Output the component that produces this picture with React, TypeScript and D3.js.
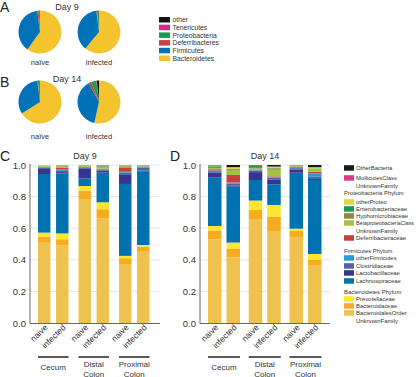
import React from "react";
import * as d3 from "d3";

// ---------- Pie data (A: Day 9, B: Day 14) ----------
const pieGroups = ["naïve", "infected"];
const pieDays = ["Day 9", "Day 14"];
const pieCategories = ["Bacteroidetes", "Firmicutes", "Deferribacteres", "Proteobacteria", "Tenericutes", "other"];
const pieColors = ["#f3c42d", "#0072b8", "#c8403a", "#14a050", "#e0268a", "#141414"];
// order: d9 naive, d9 infected, d14 naive, d14 infected
const pieBacteroidetes = [0.6, 0.61, 0.66, 0.535];
const pieFirmicutes = [0.38, 0.37, 0.32, 0.385];
const pieDeferribacteres = [0.01, 0.005, 0.004, 0.02];
const pieProteobacteria = [0.008, 0.013, 0.014, 0.04];
const pieTenericutes = [0.001, 0.001, 0.001, 0.004];
const pieOther = [0.001, 0.001, 0.001, 0.016];

// ---------- Bar data (C: Day 9, D: Day 14) ----------
const samples = ["naive", "infected"];
const regions = ["Cecum", "Distal Colon", "Proximal Colon"];
const yTicks = [0, 0.2, 0.4, 0.6, 0.8, 1.0];

const barKeys = [
  "BacteroidalesOrder", "Bacteroidaceae", "Prevotellaceae",
  "Lachnospiraceae", "Lactobacillaceae", "Clostridiaceae", "otherFirmicutes",
  "Deferribacteraceae", "Betaproteobacteria", "Hyphomicrobiaceae", "Enterobacteriaceae", "otherProteo",
  "Mollicutes", "OtherBacteria",
];
const barColors = [
  "#efc24f", "#f5ad1f", "#fde62c",
  "#0072b0", "#38348f", "#4b63a9", "#2b9bd8",
  "#c9413a", "#a5c23f", "#8b8a3a", "#179a52", "#d5dc3b",
  "#e0368a", "#1a1a1a",
];

// Day 9 — six bars: Cecum naive/infected, Distal naive/infected, Proximal naive/infected
const d9BacteroidalesOrder = [0.508, 0.49, 0.785, 0.662, 0.373, 0.451];
const d9Bacteroidaceae = [0.038, 0.04, 0.053, 0.058, 0.037, 0.032];
const d9Prevotellaceae = [0.026, 0.037, 0.029, 0.044, 0.015, 0.011];
const d9Lachnospiraceae = [0.371, 0.38, 0.048, 0.188, 0.455, 0.464];
const d9Lactobacillaceae = [0.032, 0.008, 0.064, 0.012, 0.057, 0.006];
const d9Clostridiaceae = [0.008, 0.012, 0.006, 0.008, 0.015, 0.02];
const d9OtherFirmicutes = [0.004, 0.005, 0.002, 0.004, 0.005, 0.006];
const d9Deferribacteraceae = [0.002, 0.01, 0.001, 0.002, 0.028, 0.002];
const d9Betaproteobacteria = [0.004, 0.008, 0.008, 0.01, 0.005, 0.004];
const d9Hyphomicrobiaceae = [0.002, 0.006, 0.002, 0.004, 0.007, 0.002];
const d9Enterobacteriaceae = [0.001, 0.002, 0.001, 0.006, 0.001, 0.001];
const d9OtherProteo = [0.004, 0.002, 0.001, 0.002, 0.002, 0.001];
const d9Mollicutes = [0, 0, 0, 0, 0, 0];
const d9OtherBacteria = [0, 0, 0, 0, 0, 0];

// Day 14
const d14BacteroidalesOrder = [0.53, 0.416, 0.658, 0.582, 0.54, 0.367];
const d14Bacteroidaceae = [0.055, 0.053, 0.057, 0.091, 0.042, 0.032];
const d14Prevotellaceae = [0.029, 0.04, 0.06, 0.074, 0.015, 0.038];
const d14Lachnospiraceae = [0.306, 0.354, 0.13, 0.131, 0.354, 0.468];
const d14Lactobacillaceae = [0.031, 0.008, 0.05, 0.031, 0.019, 0.006];
const d14Clostridiaceae = [0.01, 0.012, 0.01, 0.011, 0.01, 0.014];
const d14OtherFirmicutes = [0.004, 0.006, 0.005, 0.004, 0.004, 0.021];
const d14Deferribacteraceae = [0.008, 0.048, 0.002, 0.004, 0.004, 0.011];
const d14Betaproteobacteria = [0.006, 0.028, 0.006, 0.042, 0.004, 0.015];
const d14Hyphomicrobiaceae = [0.008, 0.006, 0.004, 0.006, 0.003, 0.004];
const d14Enterobacteriaceae = [0.005, 0.004, 0.012, 0.004, 0.002, 0.002];
const d14OtherProteo = [0.006, 0.01, 0.003, 0.01, 0.002, 0.008];
const d14Mollicutes = [0, 0.002, 0, 0, 0, 0];
const d14OtherBacteria = [0.002, 0.013, 0.003, 0.01, 0.001, 0.014];

const day9Series = [
  d9BacteroidalesOrder, d9Bacteroidaceae, d9Prevotellaceae, d9Lachnospiraceae, d9Lactobacillaceae,
  d9Clostridiaceae, d9OtherFirmicutes, d9Deferribacteraceae, d9Betaproteobacteria, d9Hyphomicrobiaceae,
  d9Enterobacteriaceae, d9OtherProteo, d9Mollicutes, d9OtherBacteria,
];
const day14Series = [
  d14BacteroidalesOrder, d14Bacteroidaceae, d14Prevotellaceae, d14Lachnospiraceae, d14Lactobacillaceae,
  d14Clostridiaceae, d14OtherFirmicutes, d14Deferribacteraceae, d14Betaproteobacteria, d14Hyphomicrobiaceae,
  d14Enterobacteriaceae, d14OtherProteo, d14Mollicutes, d14OtherBacteria,
];

// Legend for D (top to bottom)
const barLegend: { label: string[]; key?: string; header?: boolean }[] = [
  { label: ["OtherBacteria"], key: "OtherBacteria" },
  { label: ["MollicutesClass", "UnknownFamily"], key: "Mollicutes" },
  { label: ["Proteobacteria Phylum"], header: true },
  { label: ["otherProteo"], key: "otherProteo" },
  { label: ["Enterobacteriaceae"], key: "Enterobacteriaceae" },
  { label: ["Hyphomicrobiaceae"], key: "Hyphomicrobiaceae" },
  { label: ["BetaproteobacteriaClass", "UnknownFamily"], key: "Betaproteobacteria" },
  { label: ["Deferribacteraceae"], key: "Deferribacteraceae" },
  { label: ["Firmicutes Phylum"], header: true },
  { label: ["otherFirmicutes"], key: "otherFirmicutes" },
  { label: ["Clostridiaceae"], key: "Clostridiaceae" },
  { label: ["Lactobacillaceae"], key: "Lactobacillaceae" },
  { label: ["Lachnospiraceae"], key: "Lachnospiraceae" },
  { label: ["Bacteroidetes Phylum"], header: true },
  { label: ["Prevotellaceae"], key: "Prevotellaceae" },
  { label: ["Bacteroidaceae"], key: "Bacteroidaceae" },
  { label: ["BacteroidalesOrder", "UnknownFamily"], key: "BacteroidalesOrder" },
];
const barLegendY = [168, 178, 193, 202, 209, 216, 223, 238, 251, 258, 266, 273, 281, 292, 299, 306, 313];

const FONT = "'Liberation Sans', Arial, sans-serif";

function Pie({ cx, cy, idx }: { cx: number; cy: number; idx: number }) {
  const vals = [pieBacteroidetes, pieFirmicutes, pieDeferribacteres, pieProteobacteria, pieTenericutes, pieOther].map(a => a[idx]);
  const arcs = d3.pie<number>().sort(null)(vals);
  const arc = d3.arc<d3.PieArcDatum<number>>().innerRadius(0).outerRadius(21.5);
  return (
    <g transform={`translate(${cx},${cy})`}>
      {arcs.map((a, i) => (
        <path key={i} d={arc(a) || ""} fill={pieColors[i]} />
      ))}
    </g>
  );
}

function BarPanel({ series, x0, x1, axisX, gridEnd, pOuter, pInner }: {
  series: number[][]; x0: number; x1: number; axisX: number; gridEnd: number; pOuter: number; pInner: number;
}) {
  const y = d3.scaleLinear().domain([0, 1]).range([323, 165]);
  const gx = d3.scaleBand<string>().domain(regions).range([x0, x1]).paddingInner(pOuter).paddingOuter(0);
  const ix = d3.scaleBand<string>().domain(samples).range([0, gx.bandwidth()]).paddingInner(pInner);
  const rows = d3.range(6).map(i => {
    const r: Record<string, number> = {};
    barKeys.forEach((k, j) => (r[k] = series[j][i]));
    return r;
  });
  const stacked = d3.stack<Record<string, number>>().keys(barKeys)(rows);
  const barX = (i: number) => (gx(regions[Math.floor(i / 2)]) as number) + (ix(samples[i % 2]) as number);
  return (
    <g>
      {yTicks.map(t => (
        <g key={t}>
          {t > 0 && <line x1={axisX} x2={gridEnd} y1={y(t)} y2={y(t)} stroke="#e6e6e6" strokeWidth={1} />}
          <text x={axisX - 4} y={y(t) + 3.5} fontSize={9.5} textAnchor="end" fill="#333" fontFamily={FONT}>
            {d3.format(".1f")(t)}
          </text>
        </g>
      ))}
      {stacked.map((s, j) =>
        s.map((d, i) => (
          <rect key={`${j}-${i}`} x={barX(i)} width={ix.bandwidth()} y={y(d[1])} height={Math.max(0, y(d[0]) - y(d[1]))} fill={barColors[j]} />
        ))
      )}
      <line x1={axisX} x2={axisX} y1={164} y2={323.5} stroke="#666" strokeWidth={1} />
      <line x1={axisX} x2={gridEnd} y1={323.5} y2={323.5} stroke="#666" strokeWidth={1} />
      {d3.range(6).map(i => {
        const cx = barX(i) + ix.bandwidth() / 2 + 4;
        return (
          <text key={i} transform={`translate(${cx},328) rotate(-45)`} fontSize={8.5} textAnchor="end" fill="#333" fontFamily={FONT}>
            {samples[i % 2]}
          </text>
        );
      })}
      {regions.map(r => {
        const gx0 = gx(r) as number;
        const words = r.split(" ");
        const mid = gx0 + gx.bandwidth() / 2;
        return (
          <g key={r}>
            <line x1={gx0} x2={gx0 + gx.bandwidth()} y1={357} y2={357} stroke="#222" strokeWidth={1.5} />
            {words.length === 1 ? (
              <text x={mid} y={370} fontSize={8} textAnchor="middle" fill="#333" fontFamily={FONT}>{r}</text>
            ) : (
              words.map((w, k) => (
                <text key={k} x={mid} y={367 + k * 9.5} fontSize={8} textAnchor="middle" fill="#333" fontFamily={FONT}>{w}</text>
              ))
            )}
          </g>
        );
      })}
    </g>
  );
}

export default function App() {
  const pieCentersX = [40, 99];
  const pieCentersY = [32, 102];
  const pieLabelY = [65, 139];
  const pieTitleY = [10, 82];
  const lx = 344;
  return (
    <svg width={420} height={377} style={{ position: "absolute", left: 0, top: 0, background: "#fff" }}>
      <rect width={420} height={377} fill="#fff" />
      {/* Panel letters */}
      <text x={0} y={12} fontSize={14} fontFamily={FONT} fill="#222">A</text>
      <text x={0} y={87} fontSize={14} fontFamily={FONT} fill="#222">B</text>
      <text x={0} y={161} fontSize={14} fontFamily={FONT} fill="#222">C</text>
      <text x={170} y={161} fontSize={14} fontFamily={FONT} fill="#222">D</text>

      {/* Pies */}
      {pieDays.map((day, di) => (
        <g key={day}>
          <text x={67} y={pieTitleY[di]} fontSize={9} textAnchor="middle" fill="#333" fontFamily={FONT}>{day}</text>
          {pieGroups.map((g, gi) => (
            <g key={g}>
              <Pie cx={pieCentersX[gi]} cy={pieCentersY[di]} idx={di * 2 + gi} />
              <text x={pieCentersX[gi]} y={pieLabelY[di]} fontSize={7.5} textAnchor="middle" fill="#333" fontFamily={FONT}>{g}</text>
            </g>
          ))}
        </g>
      ))}

      {/* Pie legend */}
      {pieCategories.slice().reverse().map((c, i) => {
        const ci = pieCategories.length - 1 - i;
        const yy = 20 + i * 7.7;
        return (
          <g key={c}>
            <rect x={159} y={yy - 3} width={11} height={5.5} fill={pieColors[ci]} />
            <text x={172.5} y={yy + 2.2} fontSize={6.8} fill="#333" fontFamily={FONT}>{c}</text>
          </g>
        );
      })}

      {/* Bar titles */}
      <text x={85} y={159} fontSize={9} textAnchor="middle" fill="#333" fontFamily={FONT}>Day 9</text>
      <text x={265} y={159} fontSize={9} textAnchor="middle" fill="#333" fontFamily={FONT}>Day 14</text>

      <BarPanel series={day9Series} x0={38} x1={149.5} axisX={30} gridEnd={160} pOuter={0.247} pInner={0.31} />
      <BarPanel series={day14Series} x0={208} x1={321.5} axisX={200} gridEnd={330} pOuter={0.215} pInner={0.27} />

      {/* Bar legend */}
      {barLegend.map((e, i) => {
        const yy = barLegendY[i];
        if (e.header) {
          return (
            <text key={i} x={lx} y={yy + 2.2} fontSize={5.9} fill="#333" fontFamily={FONT}>{e.label[0]}</text>
          );
        }
        const ci = barKeys.indexOf(e.key as string);
        return (
          <g key={i}>
            <rect x={lx} y={yy - 2.8} width={10} height={5.5} fill={barColors[ci]} />
            {e.label.map((l, k) =>
              l.length > 20 ? (
                <text key={k} x={lx + 12} y={yy + 2.2 + k * 7.5} fontSize={5.2} fill="#333" fontFamily={FONT}
                  textLength={58} lengthAdjust="spacingAndGlyphs">{l}</text>
              ) : (
                <text key={k} x={lx + 12} y={yy + 2.2 + k * 7.5} fontSize={5.9} fill="#333" fontFamily={FONT}>{l}</text>
              )
            )}
          </g>
        );
      })}
    </svg>
  );
}
